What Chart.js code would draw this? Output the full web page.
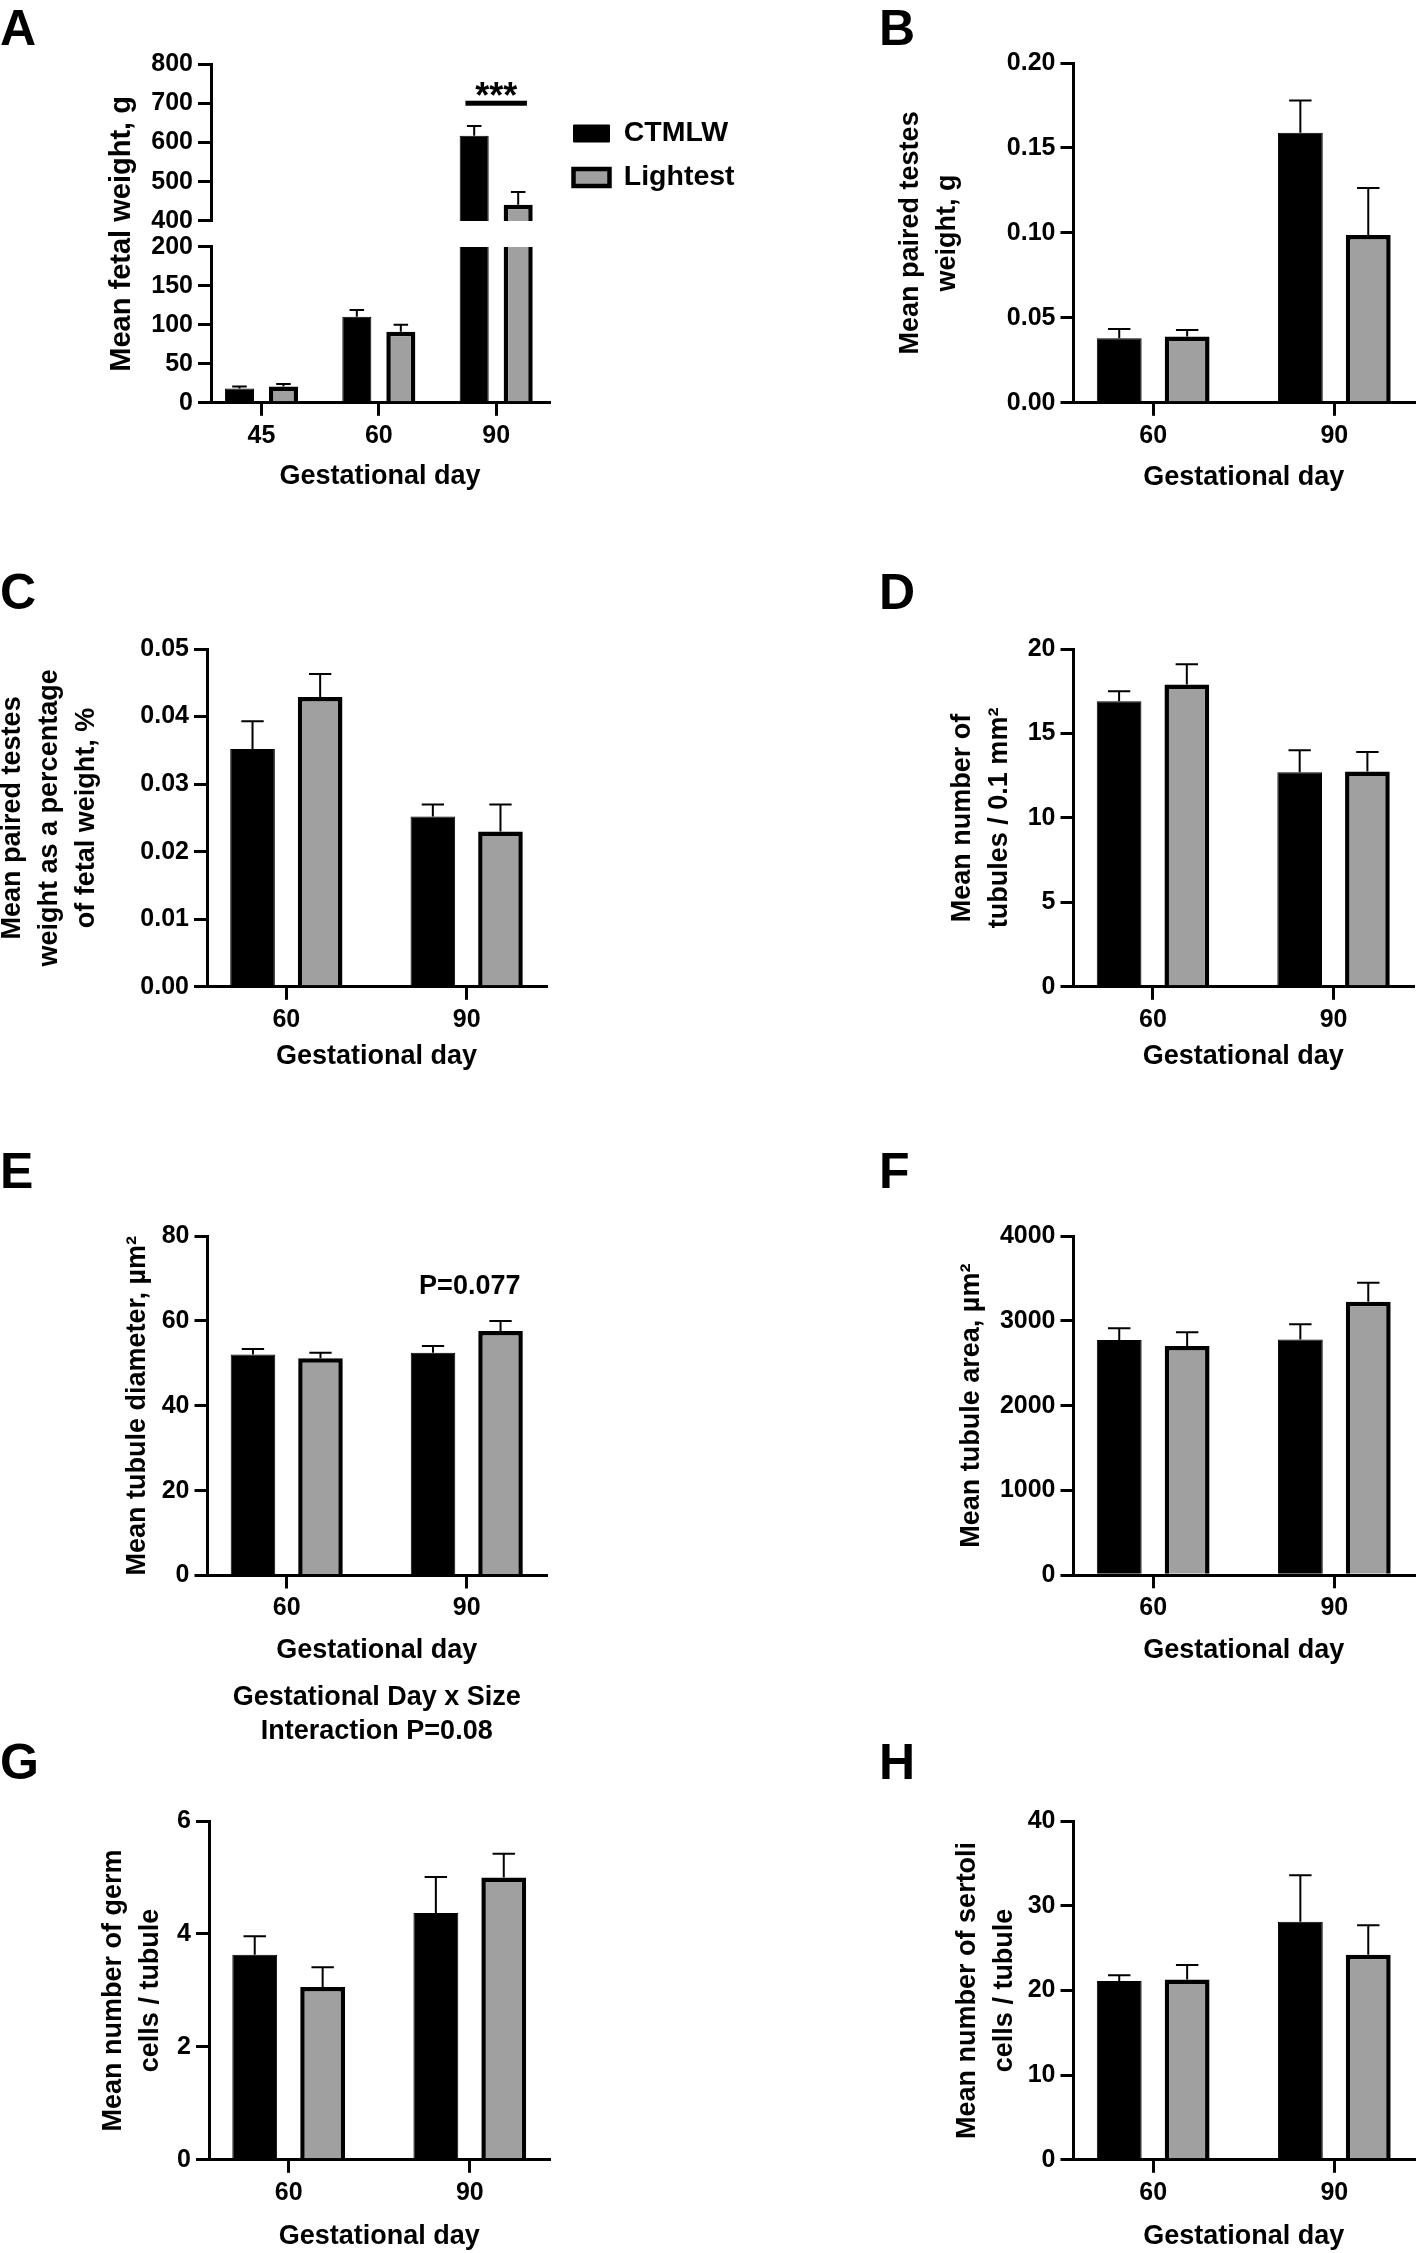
<!DOCTYPE html>
<html>
<head>
<meta charset="utf-8">
<title>Fetal weight and testes measurements</title>
<script src="https://cdn.jsdelivr.net/npm/chart.js@4.4.0/dist/chart.umd.min.js"></script>
<style>
    html, body { margin: 0; padding: 0; background: #ffffff; }
    body { width: 1418px; height: 2253px; position: relative; overflow: hidden;
           font-family: 'Liberation Sans', Arial, Helvetica, sans-serif; }
    canvas { position: absolute; }
    .letra { position: absolute; font-size: 50px; font-weight: bold; line-height: 50px; color: #000; }
</style>
</head>
<body>
<div class="letra" style="left:0px;top:3px">A</div>
<div class="letra" style="left:879px;top:3px">B</div>
<div class="letra" style="left:0px;top:567px">C</div>
<div class="letra" style="left:879px;top:567px">D</div>
<div class="letra" style="left:0px;top:1146px">E</div>
<div class="letra" style="left:879px;top:1146px">F</div>
<div class="letra" style="left:0px;top:1737px">G</div>
<div class="letra" style="left:879px;top:1737px">H</div>
<script>
// Dados
const diasA = ['45', '60', '90'];
const diasOutros = ['60', '90'];

// A - peso fetal médio (g)
const pesoFetalCtmlw = [18.5, 110.5, 617];
const pesoFetalCtmlwErro = [2.5, 8.5, 25];
const pesoFetalLightest = [21, 91, 441];
const pesoFetalLightestErro = [3, 9, 33];

// B - peso médio dos testículos (g)
const pesoTestCtmlw = [0.038, 0.159];
const pesoTestCtmlwErro = [0.0055, 0.019];
const pesoTestLightest = [0.039, 0.0987];
const pesoTestLightestErro = [0.0038, 0.0278];

// C - testículos em % do peso fetal
const pctTestCtmlw = [0.0352, 0.0252];
const pctTestCtmlwErro = [0.0041, 0.0018];
const pctTestLightest = [0.0429, 0.0230];
const pctTestLightestErro = [0.0034, 0.0040];

// D - número de túbulos / 0.1 mm2
const numTubCtmlw = [16.9, 12.7];
const numTubCtmlwErro = [0.6, 1.3];
const numTubLightest = [17.9, 12.75];
const numTubLightestErro = [1.2, 1.15];

// E - diâmetro do túbulo
const diamTubCtmlw = [52.1, 52.5];
const diamTubCtmlwErro = [1.3, 1.6];
const diamTubLightest = [51.2, 57.6];
const diamTubLightestErro = [1.3, 2.4];

// F - área do túbulo
const areaTubCtmlw = [2775, 2780];
const areaTubCtmlwErro = [137, 180];
const areaTubLightest = [2703, 3226];
const areaTubLightestErro = [162, 224];

// G - células germinativas / túbulo
const germCtmlw = [3.63, 4.37];
const germCtmlwErro = [0.33, 0.64];
const germLightest = [3.06, 5.00];
const germLightestErro = [0.35, 0.42];

// H - células de Sertoli / túbulo
const sertCtmlw = [21.1, 28.1];
const sertCtmlwErro = [0.7, 5.5];
const sertLightest = [21.3, 24.2];
const sertLightestErro = [1.7, 3.5];

// Anotações
const valorLinhaSig = 700;
const valorTextoP = 68;

// Estilo geral
const FONTE = "'Liberation Sans', Arial, Helvetica, sans-serif";
const PRETO = '#000000';
const CINZA = '#a0a0a0';
const TAM_TICK = 25;
const TAM_TITULO = 27;
const TAM_LEGENDA = 28.5;
const LH_Y = 37;
const ESTILO_BARRA = { categoryPercentage: 0.75, barPercentage: 0.66 };
const FAIXA_X2 = [-0.44, 1.44];
const FAIXA_X3 = [-0.43, 2.45];

Chart.defaults.font.family = FONTE;
Chart.defaults.font.weight = 'bold';
Chart.defaults.color = PRETO;
Chart.defaults.animation = false;

// Posição de cada painel (área do gráfico em px da página)
const geoA = { x0: 0, esq: 211, dir: 549, topo: 64, base: 403, tituloXY: 477, tituloY1: 122, espaco: 9, legenda: 184, folgaDir: 20 };
const geoB = { x0: 860, esq: 1073.5, dir: 1414, topo: 63, base: 403, tituloXY: 478, tituloY1: 911, folgaDir: 4 };
const geoC = { x0: 0, esq: 207, dir: 546, topo: 649, base: 987, tituloXY: 1057, tituloY1: 13, folgaDir: 4 };
const geoD = { x0: 860, esq: 1073.5, dir: 1413, topo: 649, base: 987, tituloXY: 1057, tituloY1: 963, folgaDir: 5 };
const geoE = { x0: 0, esq: 207.5, dir: 546, topo: 1235.5, base: 1574.5, tituloXY: 1650, tituloY1: 138, folgaDir: 4 };
const geoF = { x0: 860, esq: 1073.5, dir: 1414, topo: 1235.5, base: 1574.5, tituloXY: 1650, tituloY1: 972, folgaDir: 4 };
const geoG = { x0: 0, esq: 209, dir: 549.5, topo: 1821, base: 2160, tituloXY: 2237, tituloY1: 114, folgaDir: 4 };
const geoH = { x0: 860, esq: 1073.5, dir: 1414, topo: 1821, base: 2160, tituloXY: 2237, tituloY1: 968, folgaDir: 4 };

// Barras de erro (só para cima, com traço)
const pluginErro = {
    id: 'barrasErro',
    afterDatasetsDraw(chart) {
        const ctx = chart.ctx;
        chart.data.datasets.forEach((ds, i) => {
            if (!ds.erros) return;
            const meta = chart.getDatasetMeta(i);
            const escalaY = chart.scales[meta.yAxisID];
            meta.data.forEach((barra, j) => {
                const valor = ds.data[j];
                if (valor < escalaY.min || valor > escalaY.max) return;
                const y0 = escalaY.getPixelForValue(valor);
                const y1 = escalaY.getPixelForValue(valor + ds.erros[j]);
                const meia = barra.width * 0.25;
                ctx.save();
                ctx.strokeStyle = PRETO;
                ctx.lineWidth = 2;
                ctx.beginPath();
                ctx.moveTo(barra.x, y0);
                ctx.lineTo(barra.x, y1);
                ctx.moveTo(barra.x - meia, y1);
                ctx.lineTo(barra.x + meia, y1);
                ctx.stroke();
                ctx.restore();
            });
        });
    }
};

// Recorte de cada série no trecho do eixo quebrado
const pluginCorte = {
    id: 'corteEixo',
    beforeDatasetDraw(chart, args) {
        const escalaY = chart.scales[args.meta.yAxisID];
        const area = chart.chartArea;
        chart.ctx.save();
        chart.ctx.beginPath();
        chart.ctx.rect(area.left, escalaY.top, area.right - area.left, escalaY.bottom - escalaY.top);
        chart.ctx.clip();
    },
    afterDatasetDraw(chart) {
        chart.ctx.restore();
    }
};

// Linha de significância e *** no painel A
const pluginSig = {
    id: 'significancia',
    afterDatasetsDraw(chart) {
        const ctx = chart.ctx;
        const escala = chart.scales.yAlto;
        const b0 = chart.getDatasetMeta(2).data[2];
        const b1 = chart.getDatasetMeta(3).data[2];
        const y = escala.getPixelForValue(valorLinhaSig);
        const xa = b0.x - b0.width * 0.3;
        const xb = b1.x + b1.width * 0.3;
        ctx.save();
        ctx.fillStyle = PRETO;
        ctx.fillRect(xa, y - 2.5, xb - xa, 5);
        ctx.font = 'bold 36px ' + FONTE;
        ctx.textAlign = 'center';
        ctx.textBaseline = 'alphabetic';
        ctx.fillText('***', (b0.x + b1.x) / 2, y + 4.5);
        ctx.restore();
    }
};

function pluginTexto(id, texto, indiceGrupo, valor) {
    return {
        id: id,
        afterDatasetsDraw(chart) {
            const ctx = chart.ctx;
            const x = chart.scales.x.getPixelForValue(indiceGrupo);
            const y = chart.scales.y.getPixelForValue(valor);
            ctx.save();
            ctx.fillStyle = PRETO;
            ctx.font = 'bold ' + TAM_TITULO + 'px ' + FONTE;
            ctx.textAlign = 'center';
            ctx.textBaseline = 'middle';
            ctx.fillText(texto, x + 3, y);
            ctx.restore();
        }
    };
}

function tituloY(geo, texto, tamanho = TAM_TITULO) {
    const linhas = Array.isArray(texto) ? texto.length : 1;
    const alturaLinha = linhas > 1 ? LH_Y : tamanho * 1.2;
    return {
        display: true,
        text: texto,
        color: PRETO,
        font: { size: tamanho, weight: 'bold', lineHeight: alturaLinha / tamanho },
        padding: { top: geo.tituloY1 - geo.x0 - alturaLinha / 2, bottom: 0 }
    };
}

function eixoY(geo, cfg) {
    return {
        type: 'linear',
        position: 'left',
        min: cfg.min,
        max: cfg.max,
        stacked: false,
        afterFit: (escala) => { escala.width = geo.esq - geo.x0; },
        border: { display: true, color: PRETO, width: 3 },
        grid: { display: true, drawOnChartArea: false, drawTicks: true, tickLength: 13, color: PRETO, lineWidth: 3 },
        ticks: {
            stepSize: cfg.passo,
            autoSkip: false,
            padding: 5,
            color: PRETO,
            font: { size: TAM_TICK, weight: 'bold' },
            callback: cfg.formato || ((v) => String(v))
        },
        title: cfg.titulo ? tituloY(geo, cfg.titulo) : { display: false }
    };
}

function eixoX(geo, rotulos, faixa, alturaEixoX) {
    return {
        type: 'linear',
        position: 'bottom',
        min: faixa[0],
        max: faixa[1],
        offset: false,
        afterBuildTicks: (escala) => { escala.ticks = rotulos.map((_, i) => ({ value: i })); },
        afterFit: (escala) => { escala.height = alturaEixoX; },
        border: { display: true, color: PRETO, width: 3 },
        grid: { display: true, offset: false, drawOnChartArea: false, drawTicks: true, tickLength: 13, color: PRETO, lineWidth: 3 },
        ticks: {
            autoSkip: false, maxRotation: 0, minRotation: 0, padding: 5, color: PRETO,
            font: { size: TAM_TICK, weight: 'bold' },
            callback: (v) => rotulos[v]
        },
        title: {
            display: true, text: 'Gestational day', color: PRETO,
            font: { size: TAM_TITULO, weight: 'bold', lineHeight: 1.2 },
            padding: { top: 0, bottom: 4 }
        }
    };
}

function series(ctmlw, ctmlwErro, lightest, lightestErro, extra = {}) {
    return [
        Object.assign({ label: 'CTMLW', data: ctmlw, erros: ctmlwErro, stack: 'ctmlw',
            backgroundColor: PRETO, borderColor: PRETO, borderWidth: 1 }, ESTILO_BARRA, extra),
        Object.assign({ label: 'Lightest', data: lightest, erros: lightestErro, stack: 'lightest',
            backgroundColor: CINZA, borderColor: PRETO, borderWidth: 4.5 }, ESTILO_BARRA, extra)
    ];
}

// Cria o canvas na posição certa e o gráfico de barras
function criarGrafico(geo, rotulos, faixaX, montarEixosY, datasets, extras = {}) {
    const alturaEixoX = geo.tituloXY - geo.base + TAM_TITULO * 1.2 / 2 + 4;
    const topoCanvas = geo.topo - 24;
    const largLateral = (geo.legenda || 0) + (geo.espaco || 0);

    let alturaSub = 0;
    let subtitulo = { display: false };
    if (extras.subtitulo) {
        const s = extras.subtitulo;
        const padTopo = s.centro1 - s.altLinha / 2 - (geo.base + alturaEixoX);
        alturaSub = s.texto.length * s.altLinha + padTopo + 4;
        subtitulo = {
            display: true, position: 'bottom', fullSize: false, text: s.texto, color: PRETO,
            font: { size: TAM_TITULO, weight: 'bold', lineHeight: s.altLinha / TAM_TITULO },
            padding: { top: padTopo, bottom: 4 }
        };
    }

    const canvas = document.createElement('canvas');
    canvas.width = Math.round(geo.dir - geo.x0 + largLateral + geo.folgaDir);
    canvas.height = Math.round(geo.base + alturaEixoX + alturaSub - topoCanvas);
    canvas.style.left = geo.x0 + 'px';
    canvas.style.top = topoCanvas + 'px';
    document.body.appendChild(canvas);
    const padDir = canvas.width - (geo.dir - geo.x0) - largLateral;

    const escalas = Object.assign({ x: eixoX(geo, rotulos, faixaX, alturaEixoX) }, montarEixosY);

    return new Chart(canvas.getContext('2d'), {
        type: 'bar',
        data: { labels: rotulos.map((_, i) => i), datasets: datasets },
        options: {
            responsive: false,
            devicePixelRatio: 1,
            animation: false,
            events: [],
            layout: { padding: { top: 24, right: padDir, bottom: 0, left: 0 } },
            scales: escalas,
            plugins: {
                legend: extras.legenda || { display: false },
                tooltip: { enabled: false },
                title: { display: false },
                subtitle: subtitulo
            }
        },
        plugins: [pluginErro].concat(extras.plugins || [])
    });
}

// A - eixo quebrado (três eixos empilhados: alto, vão e baixo)
criarGrafico(geoA, diasA, FAIXA_X3, {
    yAlto: Object.assign(eixoY(geoA, { min: 400, max: 800, passo: 100 }),
        { stack: 'peso', stackWeight: 157, weight: 3 }),
    yVao: {
        type: 'linear', position: 'left', stack: 'peso', stackWeight: 26, weight: 2,
        min: 0, max: 1,
        afterFit: (escala) => { escala.width = geoA.esq - geoA.x0; },
        border: { display: false },
        grid: { display: false },
        ticks: { display: false },
        title: tituloY(geoA, 'Mean fetal weight, g', 29)
    },
    yBaixo: Object.assign(eixoY(geoA, { min: 0, max: 200, passo: 50 }),
        { stack: 'peso', stackWeight: 156, weight: 1 }),
    // espaço vazio entre a área do gráfico e a legenda
    yEspaco: {
        type: 'linear', position: 'right', min: 0, max: 1,
        afterFit: (escala) => { escala.width = geoA.espaco; },
        border: { display: false },
        grid: { display: false },
        ticks: { display: false },
        title: { display: false }
    }
}, [
    ...series(pesoFetalCtmlw, pesoFetalCtmlwErro, pesoFetalLightest, pesoFetalLightestErro, { yAxisID: 'yBaixo' }),
    ...series(pesoFetalCtmlw, pesoFetalCtmlwErro, pesoFetalLightest, pesoFetalLightestErro, { yAxisID: 'yAlto' })
], {
    plugins: [pluginCorte, pluginSig],
    legenda: {
        display: true,
        position: 'right',
        align: 'start',
        fullSize: false,
        maxWidth: geoA.legenda,
        title: { display: true, text: '', font: { size: 10 }, padding: { top: 27.75, bottom: 0 } },
        labels: {
            filter: (item) => item.datasetIndex >= 2,
            boxWidth: 36,
            boxHeight: 17,
            padding: 15.5,
            color: PRETO,
            font: { size: TAM_LEGENDA, weight: 'bold' }
        }
    }
});

// B
criarGrafico(geoB, diasOutros, FAIXA_X2, {
    y: eixoY(geoB, { min: 0, max: 0.2, passo: 0.05, formato: (v) => v.toFixed(2),
        titulo: ['Mean paired testes', 'weight, g'] })
}, series(pesoTestCtmlw, pesoTestCtmlwErro, pesoTestLightest, pesoTestLightestErro));

// C
criarGrafico(geoC, diasOutros, FAIXA_X2, {
    y: eixoY(geoC, { min: 0, max: 0.05, passo: 0.01, formato: (v) => v.toFixed(2),
        titulo: ['Mean paired testes', 'weight as a percentage', 'of fetal weight, %'] })
}, series(pctTestCtmlw, pctTestCtmlwErro, pctTestLightest, pctTestLightestErro));

// D
criarGrafico(geoD, diasOutros, FAIXA_X2, {
    y: eixoY(geoD, { min: 0, max: 20, passo: 5, titulo: ['Mean number of', 'tubules / 0.1 mm\u00b2'] })
}, series(numTubCtmlw, numTubCtmlwErro, numTubLightest, numTubLightestErro));

// E
criarGrafico(geoE, diasOutros, FAIXA_X2, {
    y: eixoY(geoE, { min: 0, max: 80, passo: 20, titulo: 'Mean tubule diameter, \u00b5m\u00b2' })
}, series(diamTubCtmlw, diamTubCtmlwErro, diamTubLightest, diamTubLightestErro), {
    plugins: [pluginTexto('textoP', 'P=0.077', 1, valorTextoP)],
    subtitulo: { texto: ['Gestational Day x Size', 'Interaction P=0.08'], centro1: 1697, altLinha: 34 }
});

// F
criarGrafico(geoF, diasOutros, FAIXA_X2, {
    y: eixoY(geoF, { min: 0, max: 4000, passo: 1000, titulo: 'Mean tubule area, \u00b5m\u00b2' })
}, series(areaTubCtmlw, areaTubCtmlwErro, areaTubLightest, areaTubLightestErro));

// G
criarGrafico(geoG, diasOutros, FAIXA_X2, {
    y: eixoY(geoG, { min: 0, max: 6, passo: 2, titulo: ['Mean number of germ', 'cells / tubule'] })
}, series(germCtmlw, germCtmlwErro, germLightest, germLightestErro));

// H
criarGrafico(geoH, diasOutros, FAIXA_X2, {
    y: eixoY(geoH, { min: 0, max: 40, passo: 10, titulo: ['Mean number of sertoli', 'cells / tubule'] })
}, series(sertCtmlw, sertCtmlwErro, sertLightest, sertLightestErro));
</script>
</body>
</html>
